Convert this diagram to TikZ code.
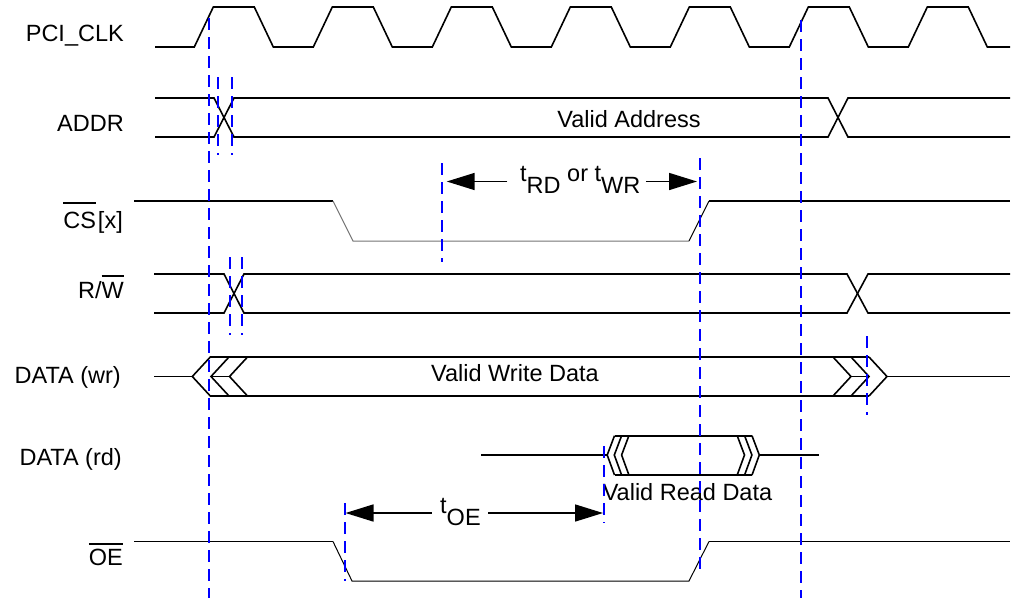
\documentclass[tikz,border=0pt]{standalone}
\usepackage{fontspec}
\setmainfont{Liberation Sans}
\usetikzlibrary{arrows.meta}
\newcommand\ovl[2][5pt]{\leavevmode\vbox{\hrule height 1.6pt\kern#1\hbox{#2}}}
\begin{document}
\begin{tikzpicture}[x=1pt,y=-1pt,
  sig/.style={line width=1.6pt, line join=miter},
  thinsig/.style={line width=1pt},
  guide/.style={blue, line width=2pt, dash pattern=on 12pt off 7pt},
  lbl/.style={anchor=base east, inner sep=0pt, font=\fontsize{23.5}{28}\selectfont},
  txt/.style={inner sep=0pt, font=\fontsize{23.5}{28}\selectfont},
  dimarrow/.style={line width=1.6pt, -{Triangle[length=28pt,width=17pt]}}]
\useasboundingbox (0,0) rectangle (1034,598);
% labels
\node[lbl] (lclk) at (124,41.5) {PCI\_CLK};
\node[lbl] (laddr) at (124,131.5) {ADDR};
\node[lbl] (lcs) at (123,228) {\ovl[8pt]{CS}\kern2pt[x]};
\node[lbl] (lrw) at (124,298) {R/\ovl[5pt]{W}};
\node[lbl] (ldw) at (121,383) {DATA (wr)};
\node[lbl] (ldr) at (122,465) {DATA (rd)};
\node[lbl] (loe) at (123,565) {\ovl[4pt]{OE}};
% clock
\draw[sig] (155,47) foreach \r in {194.3,313.3,432.3,551.3,670.3,789.3,908.3}
  { -- (\r,47) -- ({\r+19},7) -- ({\r+60},7) -- ({\r+79},47) } -- (1010,47);
% ADDR
\draw[sig] (155,98) -- (214,98) -- (234,137) -- (828,137) -- (848,98) -- (1010,98);
\draw[sig] (155,137) -- (214,137) -- (234,98) -- (828,98) -- (848,137) -- (1010,137);
\node[txt, anchor=base] (va) at (629,127) {Valid Address};
% CS
\draw[sig] (134,201) -- (333,201);
\draw[thinsig, black!55] (333,201) -- (353,241) -- (689,241);
\draw[thinsig] (689,241) -- (709,201);
\draw[sig] (709,201) -- (1010,201);
% R/W
\draw[sig] (154,274) -- (224,274) -- (244,313) -- (847,313) -- (868,274) -- (1010,274);
\draw[sig] (154,313) -- (224,313) -- (244,274) -- (847,274) -- (868,313) -- (1010,313);
% DATA wr
\draw[sig] (154,376.5) -- (192.3,376.5);
\foreach \t in {192.3,211,229.5} \draw[sig] ({\t+18},357) -- (\t,376.5) -- ({\t+18},396);
\draw[sig] (211,376.5) -- (229.5,376.5);
\draw[sig] (210,357) -- (869,357);
\draw[sig] (210,396) -- (869,396);
\foreach \a in {833,851,869} \draw[sig] (\a,357) -- ({\a+18},376.5) -- (\a,396);
\draw[sig] (851,376.5) -- (869,376.5);
\draw[sig] (887,376.5) -- (1010,376.5);
\node[txt, anchor=base] (vw) at (515,381.7) {Valid Write Data};
% DATA rd
\draw[sig] (481,455) -- (607.2,455);
\foreach \t in {607.2,614.3,621.6} \draw[sig] ({\t+7.3},435.7) -- (\t,455) -- ({\t+7.3},475);
\draw[sig] (614.5,435.7) -- (752,435.7);
\draw[sig] (614.5,475) -- (752,475);
\foreach \a in {737.2,744.6,752} \draw[sig] (\a,435.7) -- ({\a+7.3},455) -- (\a,475);
\draw[sig] (759.3,455) -- (818.5,455);
\node[txt, anchor=base] (vr) at (687.5,500) {Valid Read Data};
% OE
\draw[sig] (134,541.5) -- (333,541.5);
\draw[thinsig] (333,541.5) -- (352,581) -- (689,581) -- (709,541.5);
\draw[sig] (709,541.5) -- (1010,541.5);
% timing annotations
\node[txt, anchor=base west] (trw) at (520,181.5) {t\raisebox{-12pt}{RD} or t\raisebox{-12pt}{WR}};
\coordinate (rwL0) at (507.3,181.5); \coordinate (rwL1) at (446.7,181.5);
\coordinate (rwR0) at (645.8,181.5); \coordinate (rwR1) at (697,181.5);
\draw[dimarrow] (rwL0) -- (rwL1);
\draw[dimarrow] (rwR0) -- (rwR1);
\node[txt, anchor=base west] (toe) at (440,513) {t\raisebox{-12pt}{OE}};
\coordinate (oeL0) at (431.7,513); \coordinate (oeL1) at (345.5,513);
\coordinate (oeR0) at (488.3,513); \coordinate (oeR1) at (603,513);
\draw[dimarrow] (oeL0) -- (oeL1);
\draw[dimarrow] (oeR0) -- (oeR1);
% guide lines
\draw[guide] (209,18) -- (209,598);
\draw[guide] (218,77) -- (218,155);
\draw[guide] (231.7,77) -- (231.7,155);
\draw[guide] (230,257) -- (230,335);
\draw[guide] (241.7,257) -- (241.7,335);
\draw[guide] (441.7,163) -- (441.7,262);
\draw[guide] (700,158) -- (700,572);
\draw[guide] (800.5,20) -- (800.5,598);
\draw[guide] (867,336) -- (867,415);
\draw[guide] (604,446) -- (604,523);
\draw[guide] (345,503) -- (345,581);
\end{tikzpicture}
\end{document}
